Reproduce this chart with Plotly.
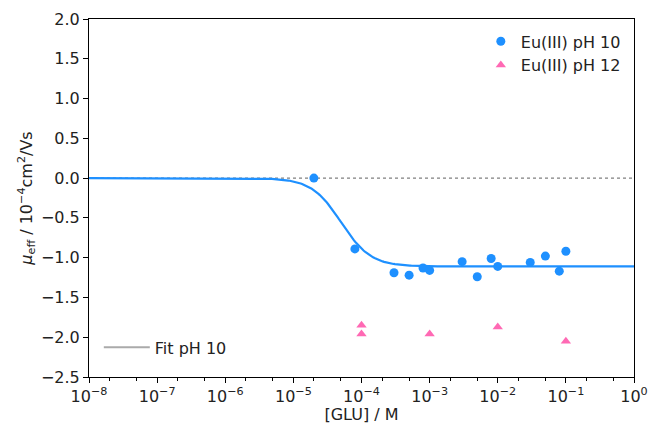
import numpy as np
import plotly.graph_objects as go

# --- data ---
glu_ph10 = [2e-5, 8e-5, 3e-4, 5e-4, 8e-4, 1e-3, 3e-3, 5e-3, 8e-3, 1e-2, 3e-2, 5e-2, 8e-2, 1e-1]
mu_ph10 = [0.00, -0.89, -1.19, -1.22, -1.13, -1.16, -1.05, -1.24, -1.01, -1.11, -1.06, -0.98, -1.17, -0.92]

glu_ph12 = [1e-4, 1e-4, 1e-3, 1e-2, 1e-1]
mu_ph12 = [-1.85, -1.96, -1.96, -1.87, -2.05]

# fit parameters (Hill-type complexation model)
fit_mu_complex = -1.11
fit_log_beta = 8.6
fit_n = 2

xtick_vals = [1e-8, 1e-7, 1e-6, 1e-5, 1e-4, 1e-3, 1e-2, 1e-1, 1e0]
xtick_text = ["10<sup>−8</sup>", "10<sup>−7</sup>", "10<sup>−6</sup>", "10<sup>−5</sup>",
              "10<sup>−4</sup>", "10<sup>−3</sup>", "10<sup>−2</sup>", "10<sup>−1</sup>", "10<sup>0</sup>"]
ytick_vals = [2.0, 1.5, 1.0, 0.5, 0.0, -0.5, -1.0, -1.5, -2.0, -2.5]
ytick_text = ["2.0", "1.5", "1.0", "0.5", "0.0", "−0.5", "−1.0", "−1.5", "−2.0", "−2.5"]

x_fit = np.logspace(-8, 0, 400)
bl = (10 ** fit_log_beta) * x_fit ** fit_n
y_fit = fit_mu_complex * bl / (1 + bl)

fig = go.Figure()
fig.add_trace(go.Scatter(x=[1e-8, 1e0], y=[0, 0], mode="lines",
                         line=dict(color="gray", width=1.3, dash="dot"), showlegend=False))
fig.add_trace(go.Scatter(x=x_fit, y=y_fit, mode="lines",
                         line=dict(color="#1E90FF", width=2.2), showlegend=False))
fig.add_trace(go.Scatter(x=glu_ph10, y=mu_ph10, mode="markers", name="Eu(III) pH 10",
                         marker=dict(color="#1E90FF", size=9, symbol="circle"), legend="legend"))
fig.add_trace(go.Scatter(x=glu_ph12, y=mu_ph12, mode="markers", name="Eu(III) pH 12",
                         marker=dict(color="#FF69B4", size=9, symbol="triangle-up"), legend="legend"))
fig.add_trace(go.Scatter(x=[None], y=[None], mode="lines", name="Fit pH 10",
                         line=dict(color="#AAAAAA", width=2), legend="legend2"))

fig.update_layout(
    width=651, height=424,
    margin=dict(l=89, r=17, t=19, b=47, autoexpand=False),
    paper_bgcolor="white", plot_bgcolor="white",
    font=dict(family="DejaVu Sans", size=16, color="#222222"),
    legend=dict(x=0.985, y=0.985, xanchor="right", yanchor="top", bgcolor="rgba(0,0,0,0)",
                font=dict(family="DejaVu Sans", size=16, color="#222222"),
                itemwidth=30, tracegroupgap=0),
    legend2=dict(x=0.018, y=0.035, xanchor="left", yanchor="bottom", bgcolor="rgba(0,0,0,0)",
                 font=dict(family="DejaVu Sans", size=16, color="#222222"), itemwidth=46),
)
fig.update_xaxes(type="log", range=[-8, 0], tickvals=xtick_vals, ticktext=xtick_text,
                 tickfont=dict(size=16), automargin=False,
                 showgrid=False, zeroline=False, showline=True, linecolor="black", linewidth=1,
                 mirror=True, ticks="outside", ticklen=5, tickcolor="black",
                 minor=dict(ticks="outside", ticklen=3, tickcolor="black", showgrid=False),
                 title=dict(text="[GLU] / M", standoff=2, font=dict(size=16)))
fig.update_yaxes(range=[-2.5, 2.0], tickvals=ytick_vals, ticktext=ytick_text,
                 tickfont=dict(size=16), automargin=False,
                 showgrid=False, zeroline=False, showline=True, linecolor="black", linewidth=1,
                 mirror=True, ticks="outside", ticklen=5, tickcolor="black",
                 title=dict(text="<i>μ</i><sub>eff</sub> / 10<sup>−4</sup>cm<sup>2</sup>/Vs",
                            standoff=4, font=dict(size=16)))

fig.write_html("out.html", config={"displayModeBar": False},
               post_script="document.body.style.margin='0';document.body.style.overflow='hidden';")
